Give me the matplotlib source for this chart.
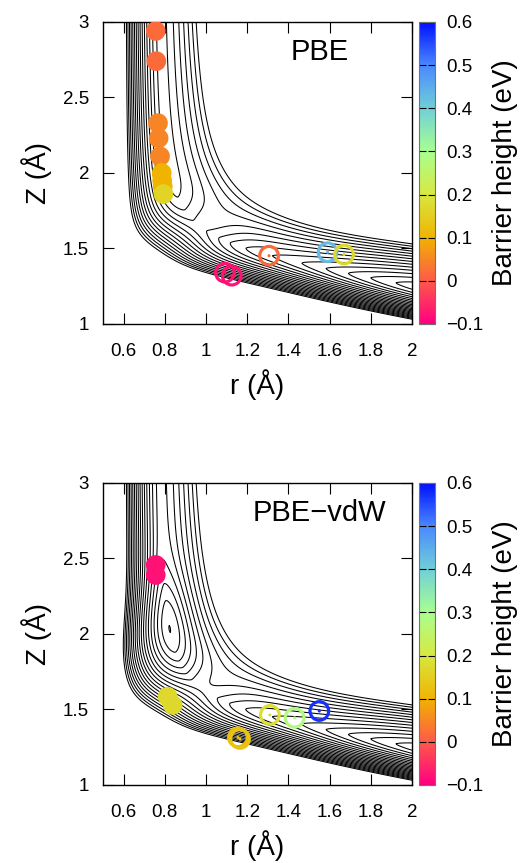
import numpy as np
import matplotlib
matplotlib.use('Agg')
import matplotlib.pyplot as plt
from matplotlib.colors import LinearSegmentedColormap, Normalize
from matplotlib.ticker import FormatStrFormatter, FuncFormatter

plt.rcParams['font.family'] = ['Liberation Sans', 'DejaVu Sans']

# barrier heights (eV)
pbe_filled_r = [0.756, 0.759, 0.767, 0.770, 0.777, 0.785, 0.787, 0.790, 0.793]
pbe_filled_z = [2.94, 2.74, 2.33, 2.23, 2.11, 2.00, 1.95, 1.91, 1.86]
pbe_filled_e = [0.02, 0.02, 0.05, 0.05, 0.05, 0.10, 0.10, 0.10, 0.16]
pbe_open_r = [1.092, 1.125, 1.306, 1.590, 1.670]
pbe_open_z = [1.340, 1.320, 1.452, 1.475, 1.460]
pbe_open_e = [-0.08, -0.08, 0.02, 0.43, 0.17]

vdw_filled_r = [0.756, 0.756, 0.814, 0.838]
vdw_filled_z = [2.457, 2.390, 1.585, 1.530]
vdw_filled_e = [-0.08, -0.08, 0.17, 0.17]
vdw_open_r = [1.155, 1.165, 1.310, 1.430, 1.550]
vdw_open_z = [1.315, 1.305, 1.464, 1.445, 1.490]
vdw_open_e = [0.12, 0.13, 0.18, 0.28, 0.57]

# palette of the colour box
cb_vals = [-0.1, 0.0, 0.1, 0.2, 0.3, 0.4, 0.5, 0.6]
cb_colors = ['#ff0080', '#ff5a48', '#f0b400', '#d8e840', '#a8ff90',
             '#70d0d8', '#4a88ff', '#0010ff']
cb_ticks = [-0.1, 0, 0.1, 0.2, 0.3, 0.4, 0.5, 0.6]

# model elbow PES for the contour background (one parameter set per panel)
pbe_pes = dict(well=0.0, well_at=0.4, well_w=0.35,
               barrier=0.30, barrier_at=-0.05, barrier_w=0.22,
               drop=0.90, drop_at=0.9, drop_w=0.25)
vdw_pes = dict(well=-0.35, well_at=0.45, well_w=0.35,
               barrier=0.30, barrier_at=-0.05, barrier_w=0.22,
               drop=0.90, drop_at=0.9, drop_w=0.25)
levels = np.arange(-1.45, 1.5, 0.1)
plateau = 0.72
k_in, k_out = 25.0, 11.5
corner_r, corner_z, exit_slope = 0.44, 1.29, 0.243
channel_c, pnorm, sigma = 0.32, 1.5, 0.08

xmin, xmax, ymin, ymax = 0.5, 2.0, 1.0, 3.0


def pes_grid(p, n=360):
    R, Z = np.meshgrid(np.linspace(xmin, xmax, n), np.linspace(ymin, ymax, n))
    u = R - corner_r
    w = Z - (corner_z - exit_slope * (R - corner_r))
    uc = np.clip(u, 1e-3, None)
    wc = np.clip(w, 1e-3, None)
    xi = (uc ** -pnorm + wc ** -pnorm) ** (-1 / pnorm)
    eta = w - u
    e_far = -p['drop'] / (1 + np.exp(-(-eta - p['drop_at']) / p['drop_w']))
    e_ch = e_far + p['well'] * np.exp(-((eta - p['well_at']) / p['well_w']) ** 2)
    e_ch += p['barrier'] * np.exp(-((eta - p['barrier_at']) / p['barrier_w']) ** 2)
    d = xi - channel_c
    g = np.exp(-(d / sigma) ** 2)
    v_out = np.minimum(e_ch * g + e_far * (1 - g) + k_out * np.abs(d) ** 1.5, plateau)
    v_in = e_ch + k_in * np.abs(d) ** 1.5
    V = np.where(d > 0, v_out, v_in)
    return R, Z, V


def minus_fmt(x, pos):
    return ('%g' % x).replace('-', '\u2212')


cmap = LinearSegmentedColormap.from_list(
    'barrier', [((v - cb_vals[0]) / (cb_vals[-1] - cb_vals[0]), c)
                for v, c in zip(cb_vals, cb_colors)])
norm = Normalize(vmin=-0.1, vmax=0.6)

fig = plt.figure(figsize=(5.25, 8.63), dpi=100)

panels = [
    (0.6246, pbe_pes, 'PBE', pbe_filled_r, pbe_filled_z, pbe_filled_e,
     pbe_open_r, pbe_open_z, pbe_open_e),
    (0.0904, vdw_pes, 'PBE\u2212vdW', vdw_filled_r, vdw_filled_z, vdw_filled_e,
     vdw_open_r, vdw_open_z, vdw_open_e),
]

for bottom, pes, name, fr, fz, fe, orr, oz, oe in panels:
    ax = fig.add_axes([0.1962, bottom, 0.5886, 0.35])
    R, Z, V = pes_grid(pes)
    ax.contour(R, Z, V, levels=levels, colors='black', linewidths=0.75,
               linestyles='solid')

    ax.scatter(fr, fz, c=fe, cmap=cmap, norm=norm, s=200, edgecolors='none', zorder=3)
    ax.scatter(orr, oz, facecolors='none', edgecolors=cmap(norm(oe)), s=180,
               linewidths=2.3, zorder=3)
    ax.scatter(orr, oz, c=oe, cmap=cmap, norm=norm, s=5, edgecolors='none', zorder=3)

    ax.set_xlim(xmin, xmax)
    ax.set_ylim(ymin, ymax)
    ax.set_xticks([0.6, 0.8, 1.0, 1.2, 1.4, 1.6, 1.8, 2.0])
    ax.set_yticks([1, 1.5, 2, 2.5, 3])
    ax.xaxis.set_major_formatter(FormatStrFormatter('%g'))
    ax.yaxis.set_major_formatter(FormatStrFormatter('%g'))
    ax.tick_params(direction='in', length=8, width=0.8, top=True, right=True,
                   labelsize=13.5)
    ax.tick_params(axis='x', pad=14)
    ax.tick_params(axis='y', pad=10)
    ax.set_xlabel('r (Å)', fontsize=20, labelpad=6)
    ax.set_ylabel('Z (Å)', fontsize=20, labelpad=8)
    for sp in ax.spines.values():
        sp.set_linewidth(1.0)
    ax.text(0.70, 0.90, name, transform=ax.transAxes, fontsize=21,
            ha='center', va='center')

    cax = fig.add_axes([0.798, bottom, 0.0305, 0.35])
    cb = fig.colorbar(plt.cm.ScalarMappable(norm=norm, cmap=cmap), cax=cax)
    cb.set_ticks(cb_ticks)
    cb.ax.yaxis.set_major_formatter(FuncFormatter(minus_fmt))
    cb.ax.tick_params(direction='in', length=5, width=0.8, left=True, right=True,
                      labelsize=13.5, pad=8)
    cb.outline.set_edgecolor('0.45')
    cb.set_label('Barrier height (eV)', fontsize=20, labelpad=6)

fig.savefig('out.png', dpi=100)
